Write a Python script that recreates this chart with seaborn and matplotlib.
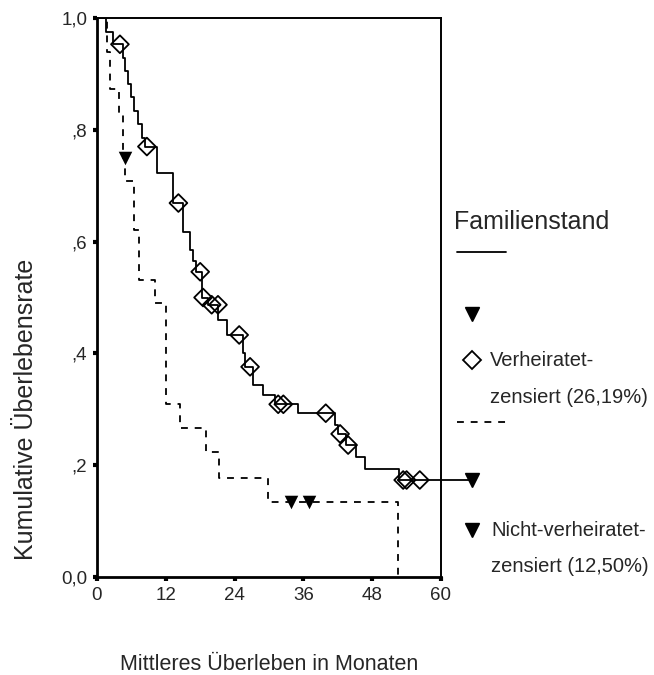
import matplotlib
matplotlib.use("Agg")
import matplotlib.pyplot as plt
import pandas as pd
import seaborn as sns
from matplotlib.lines import Line2D
from matplotlib.transforms import blended_transform_factory

# Kaplan-Meier estimates: step times (months) and cumulative survival after each step
verh_time = [0, 1.6, 2.8, 4.5, 4.9, 5.4, 5.9, 6.5, 7.2, 7.9, 8.3, 10.4, 13.2, 15.0,
             16.2, 16.7, 17.3, 18.3, 19.4, 21.1, 22.6, 25.5, 25.8, 27.2, 29.0, 31.0,
             35.1, 41.5, 42.0, 43.4, 45.1, 46.7, 52.6, 60.0]
verh_surv = [1.0, 0.975, 0.953, 0.929, 0.905, 0.882, 0.858, 0.834, 0.810, 0.786, 0.770,
             0.722, 0.669, 0.617, 0.585, 0.565, 0.546, 0.500, 0.487, 0.460, 0.433, 0.400,
             0.376, 0.343, 0.325, 0.309, 0.293, 0.272, 0.256, 0.236, 0.215, 0.193,
             0.1735, 0.1735]
# censored cases (married)
verh_cens_time = [4.0, 8.7, 14.2, 18.0, 18.5, 20.0, 21.1, 24.8, 26.7, 31.6, 32.5, 39.9,
                  42.4, 43.8, 53.4, 54.0, 56.3]
verh_cens_surv = [0.953, 0.770, 0.669, 0.546, 0.500, 0.487, 0.487, 0.433, 0.376, 0.309,
                  0.309, 0.293, 0.256, 0.236, 0.1735, 0.1735, 0.1735]

nverh_time = [0, 1.8, 2.3, 3.8, 4.6, 4.95, 6.45, 7.3, 10.1, 12.0, 14.5, 19.0, 21.3,
              29.9, 52.5]
nverh_surv = [1.0, 0.94, 0.873, 0.83, 0.75, 0.708, 0.621, 0.531, 0.49, 0.309, 0.267,
              0.224, 0.177, 0.134, 0.0]
# censored cases (not married)
nverh_cens_time = [4.8, 33.8, 37.0]
nverh_cens_surv = [0.75, 0.134, 0.134]

x_ticks = [0, 12, 24, 36, 48, 60]
y_ticks = [0.0, 0.2, 0.4, 0.6, 0.8, 1.0]
y_tick_labels = ["0,0", ",2", ",4", ",6", ",8", "1,0"]

sns.set_style("ticks")
plt.rcParams["font.family"] = ["Liberation Sans", "DejaVu Sans"]

fig = plt.figure(figsize=(6.54, 6.75), dpi=100)
ax = fig.add_axes([97 / 654, 1 - 577 / 675, 344 / 654, 559 / 675])

lw = 1.3
dash = (0, (3.8, 3.8))
verh = pd.DataFrame({"Monate": verh_time, "Rate": verh_surv})
nverh = pd.DataFrame({"Monate": nverh_time, "Rate": nverh_surv})

sns.lineplot(data=verh, x="Monate", y="Rate", estimator=None, color="black",
             drawstyle="steps-post", linewidth=lw, ax=ax)
sns.lineplot(data=nverh, x="Monate", y="Rate", estimator=None, color="black",
             drawstyle="steps-post", linewidth=lw, linestyle=dash, ax=ax)

sns.scatterplot(x=verh_cens_time, y=verh_cens_surv, marker="D", s=82, ax=ax, zorder=3)
diam = ax.collections[-1]
diam.set_facecolor("none")
diam.set_edgecolor("black")
diam.set_linewidth(1.3)

sns.scatterplot(x=nverh_cens_time, y=nverh_cens_surv, marker="v", s=95, color="black",
                edgecolor="black", linewidth=0, ax=ax, zorder=3)

ax.set_xlim(0, 60)
ax.set_ylim(0, 1.0)
ax.set_xticks(x_ticks)
ax.set_xticklabels([str(t) for t in x_ticks])
ax.set_yticks(y_ticks)
ax.set_yticklabels(y_tick_labels)
ax.tick_params(direction="out", length=3, width=3, labelsize=13.5, pad=4, color="black")

for side, sp in ax.spines.items():
    sp.set_color("black")
    sp.set_linewidth(2.0 if side in ("left", "bottom") else 1.4)

ax.set_xlabel("Mittleres Überleben in Monaten", fontsize=15.5)
ax.set_ylabel("Kumulative Überlebensrate", fontsize=18)
ax.xaxis.set_label_coords(0.5, -0.138)
ax.yaxis.set_label_coords(-0.172, 0.30)

# legend: the married curve runs out past the frame into its legend symbol
trans = blended_transform_factory(ax.transAxes, ax.transData)
ax.add_line(Line2D([1.0, 1.089], [verh_surv[-1]] * 2, transform=trans, color="black",
                   linewidth=lw, clip_on=False))
ax.add_line(Line2D([1.089], [verh_surv[-1]], transform=trans, marker="v", markersize=9.6,
                   color="black", linestyle="none", clip_on=False))


def fx(px):
    return px / 654


def fy(py):
    return 1 - py / 675


fig.text(fx(454), fy(222), "Familienstand", fontsize=18, ha="left", va="center")
fig.add_artist(Line2D([fx(456.5), fx(505.5)], [fy(252)] * 2, color="black", linewidth=lw))
fig.add_artist(Line2D([fx(471.5)], [fy(314)], marker="v", markersize=9.6, color="black",
                      linestyle="none"))
fig.add_artist(Line2D([fx(472)], [fy(360)], marker="D", markersize=9, markerfacecolor="none",
                      markeredgecolor="black", markeredgewidth=1.3, linestyle="none"))
fig.text(fx(490), fy(360), "Verheiratet-", fontsize=14.5, ha="left", va="center")
fig.text(fx(490), fy(397), "zensiert (26,19%)", fontsize=14.5, ha="left", va="center")
fig.add_artist(Line2D([fx(456.5), fx(505.5)], [fy(422)] * 2, color="black", linewidth=lw,
                      linestyle=dash))
fig.add_artist(Line2D([fx(471.5)], [fy(530)], marker="v", markersize=9.6, color="black",
                      linestyle="none"))
fig.text(fx(491), fy(530), "Nicht-verheiratet-", fontsize=14.5, ha="left", va="center")
fig.text(fx(491), fy(566), "zensiert (12,50%)", fontsize=14.5, ha="left", va="center")

fig.savefig("out.png", dpi=100)
